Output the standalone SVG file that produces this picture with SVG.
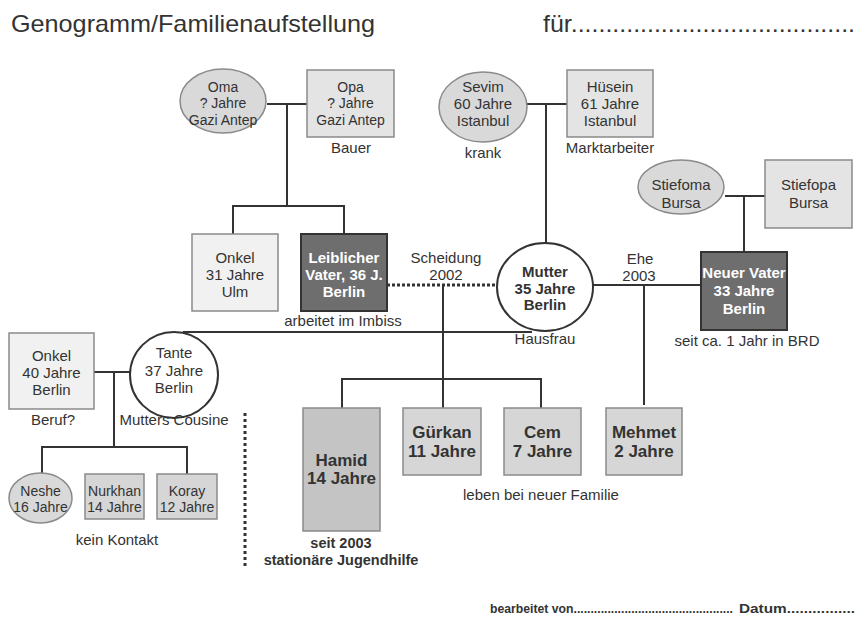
<svg xmlns="http://www.w3.org/2000/svg" width="857" height="623" viewBox="0 0 857 623">
<style>
text{font-family:"Liberation Sans",Arial,sans-serif;fill:#333;text-anchor:middle;font-size:15px}
.sm{font-size:14px}
.xs{font-size:14px}
.b{font-weight:bold}
.w{font-weight:bold;fill:#fff}
.k{font-weight:bold;font-size:17px}
.lt{fill:#e4e4e4;stroke:#8a8a8a;stroke-width:1.5}
.vl{fill:#f1f1f1;stroke:#8a8a8a;stroke-width:1.5}
.el{fill:#d9d9d9;stroke:#8a8a8a;stroke-width:1.5}
.dk{fill:#6e6e6e;stroke:#333;stroke-width:2}
.wc{fill:#fff;stroke:#333;stroke-width:2}
.ch{fill:#d6d6d6;stroke:#8a8a8a;stroke-width:1.5}
.hm{fill:#c4c4c4;stroke:#8a8a8a;stroke-width:1.5}
.ln{fill:none;stroke:#333;stroke-width:2}
</style>
<g id="title">
<text x="11" y="32" style="text-anchor:start;font-size:24px" textLength="364" lengthAdjust="spacingAndGlyphs">Genogramm/Familienaufstellung</text>
<text x="543" y="32" style="text-anchor:start;font-size:24px" textLength="312" lengthAdjust="spacingAndGlyphs">für.........................................</text>
</g>
<g id="connectors">
<path class="ln" d="M267 104H307M287 104V206M233 234V206H344V234"/>
<path class="ln" d="M526 104H567M546 104V243"/>
<path class="ln" d="M725 196H765M744 196V252"/>
<path class="ln" d="M593 285H701M644 285V405"/>
<path d="M387 285H496" fill="none" stroke="#333" stroke-width="3" stroke-dasharray="3 2"/>
<path class="ln" d="M443 285V408M342 408V379H541V408"/>
<path class="ln" d="M183 332H532"/>
<path class="ln" d="M94 372H130M114 372V447M42 474V447H187V474"/>
<path d="M245 413V566" fill="none" stroke="#333" stroke-width="3" stroke-dasharray="3 3"/>
</g>
<g id="oma"><ellipse class="el" cx="223" cy="101" rx="43" ry="32"/>
<text class="sm" x="223" y="92">Oma</text><text class="sm" x="223" y="108">? Jahre</text><text class="sm" x="223" y="125">Gazi Antep</text></g>
<g id="opa"><rect class="lt" x="307" y="70" width="87" height="67"/>
<text class="sm" x="350.5" y="92">Opa</text><text class="sm" x="350.5" y="108">? Jahre</text><text class="sm" x="350.5" y="125">Gazi Antep</text>
<text x="351" y="153">Bauer</text></g>
<g id="sevim"><ellipse class="el" cx="483" cy="107" rx="44" ry="35"/>
<text x="483" y="92">Sevim</text><text x="483" y="109">60 Jahre</text><text x="483" y="126">Istanbul</text>
<text x="483" y="158">krank</text></g>
<g id="huesein"><rect class="lt" x="567" y="70" width="86" height="67"/>
<text x="610" y="92">Hüsein</text><text x="610" y="109">61 Jahre</text><text x="610" y="126">Istanbul</text>
<text x="610" y="153">Marktarbeiter</text></g>
<g id="stiefoma"><ellipse class="el" cx="681" cy="187" rx="43" ry="27"/>
<text x="681" y="190">Stiefoma</text><text x="681" y="208">Bursa</text></g>
<g id="stiefopa"><rect class="lt" x="765" y="160" width="87" height="68"/>
<text x="808.5" y="190">Stiefopa</text><text x="808.5" y="208">Bursa</text></g>
<g id="onkel31"><rect class="vl" x="192" y="234" width="86" height="77"/>
<text x="235" y="263">Onkel</text><text x="235" y="280">31 Jahre</text><text x="235" y="297">Ulm</text></g>
<g id="leiblicher-vater"><rect class="dk" x="301" y="234" width="86" height="77"/>
<text class="w" x="344" y="263">Leiblicher</text><text class="w" x="344" y="280">Vater, 36 J.</text><text class="w" x="344" y="297">Berlin</text>
<text x="343" y="326">arbeitet im Imbiss</text></g>
<g id="scheidung"><text x="446" y="263">Scheidung</text><text x="446" y="280">2002</text></g>
<g id="mutter"><ellipse class="wc" cx="545" cy="287" rx="48" ry="44"/>
<text class="b" x="545" y="277">Mutter</text><text class="b" x="545" y="294">35 Jahre</text><text class="b" x="545" y="310">Berlin</text>
<text x="545" y="344">Hausfrau</text></g>
<g id="ehe"><text x="640" y="264">Ehe</text><text x="639" y="281">2003</text></g>
<g id="neuer-vater"><rect class="dk" x="701" y="252" width="86" height="78"/>
<text class="w" x="744" y="278">Neuer Vater</text><text class="w" x="744" y="296">33 Jahre</text><text class="w" x="744" y="314">Berlin</text>
<text x="747" y="346">seit ca. 1 Jahr in BRD</text></g>
<g id="onkel40"><rect class="vl" x="9" y="333" width="85" height="76"/>
<text x="51.5" y="361">Onkel</text><text x="51.5" y="378">40 Jahre</text><text x="51.5" y="395">Berlin</text>
<text x="53" y="425">Beruf?</text></g>
<g id="tante"><ellipse class="wc" cx="174" cy="375" rx="44" ry="43"/>
<text x="174" y="358">Tante</text><text x="174" y="376">37 Jahre</text><text x="174" y="393">Berlin</text>
<text x="174" y="425">Mutters Cousine</text></g>
<g id="neshe"><ellipse class="el" cx="40.5" cy="498" rx="31.5" ry="25"/>
<text class="xs" x="40.5" y="496">Neshe</text><text class="xs" x="40.5" y="512">16 Jahre</text></g>
<g id="nurkhan"><rect class="ch" x="85" y="474" width="59" height="45"/>
<text class="xs" x="114.5" y="496">Nurkhan</text><text class="xs" x="114.5" y="512">14 Jahre</text></g>
<g id="koray"><rect class="ch" x="157" y="474" width="60" height="45"/>
<text class="xs" x="187" y="496">Koray</text><text class="xs" x="187" y="512">12 Jahre</text>
<text x="117" y="545">kein Kontakt</text></g>
<g id="hamid"><rect class="hm" x="303" y="408" width="77" height="123"/>
<text class="k" x="341.5" y="466">Hamid</text><text class="k" x="341.5" y="484">14 Jahre</text>
<text class="b" x="341" y="548" style="font-size:14.5px">seit 2003</text><text class="b" x="341" y="565" style="font-size:14.5px">stationäre Jugendhilfe</text></g>
<g id="guerkan"><rect class="ch" x="403" y="408" width="78" height="67"/>
<text class="k" x="442" y="438">Gürkan</text><text class="k" x="442" y="457">11 Jahre</text></g>
<g id="cem"><rect class="ch" x="504" y="408" width="77" height="67"/>
<text class="k" x="542.5" y="438">Cem</text><text class="k" x="542.5" y="457">7 Jahre</text>
<text x="541" y="500">leben bei neuer Familie</text></g>
<g id="mehmet"><rect class="ch" x="606" y="408" width="76" height="67"/>
<text class="k" x="644" y="438">Mehmet</text><text class="k" x="644" y="457">2 Jahre</text></g>
<g id="footer">
<text x="490" y="613" class="b" style="text-anchor:start;font-size:12.5px" textLength="243" lengthAdjust="spacingAndGlyphs">bearbeitet von...............................................</text>
<text x="739" y="613" class="b" style="text-anchor:start;font-size:12.5px" textLength="116" lengthAdjust="spacingAndGlyphs">Datum................</text>
</g>
</svg>
